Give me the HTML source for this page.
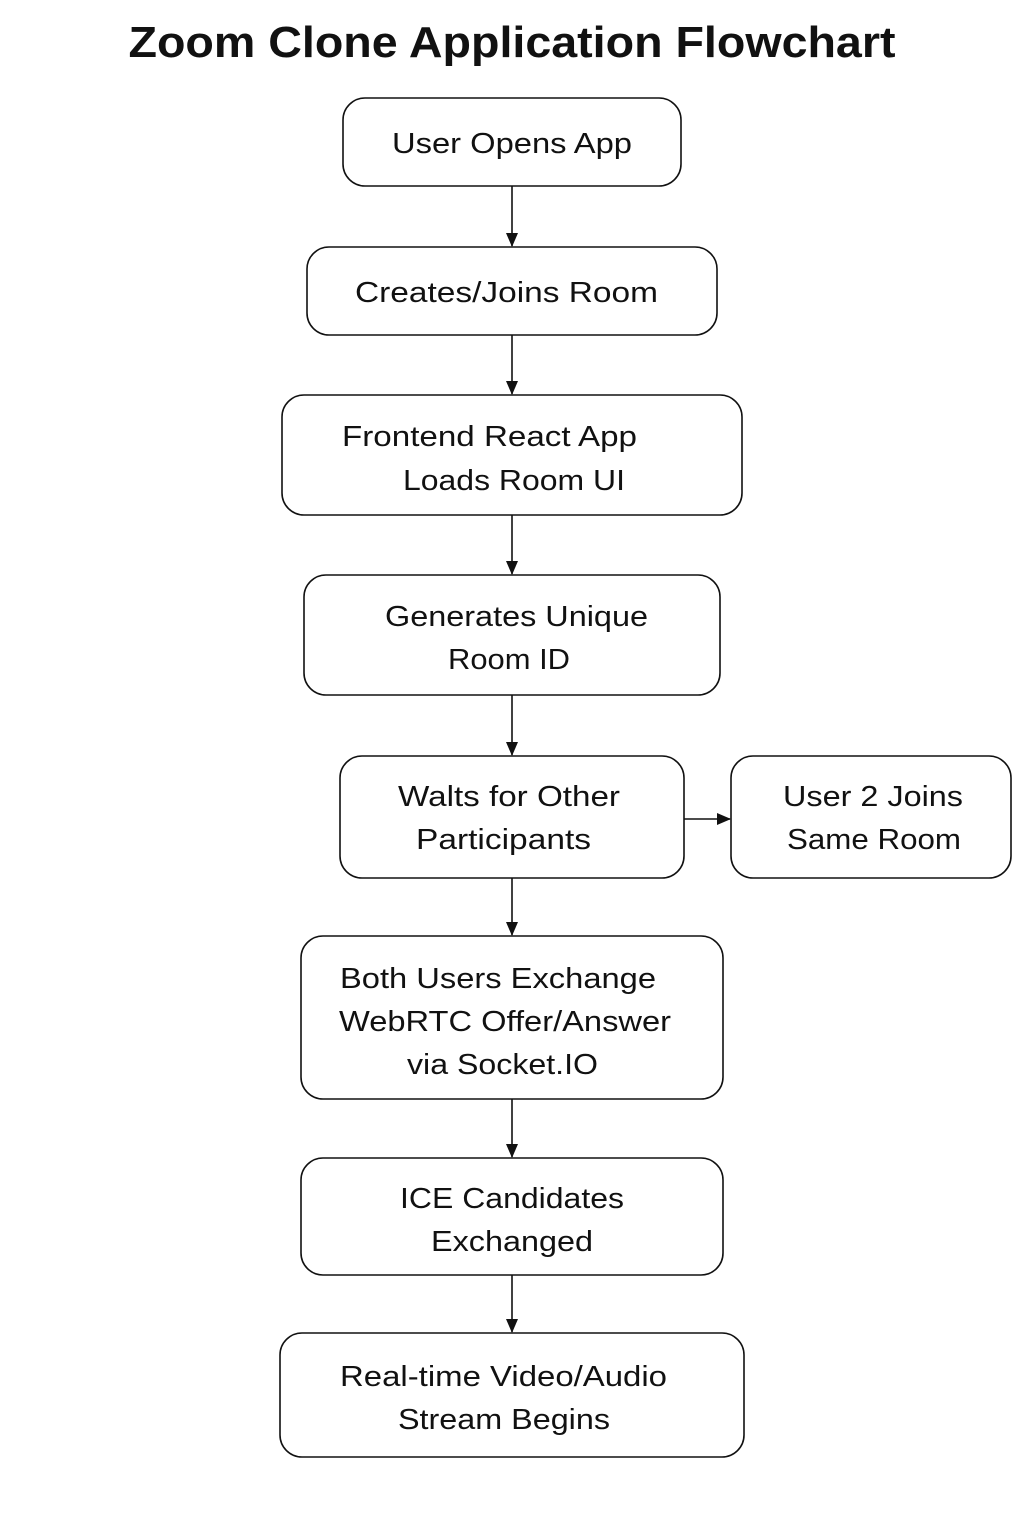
<!DOCTYPE html>
<html><head><meta charset="utf-8"><style>html,body{margin:0;padding:0;background:#fff}svg{display:block}</style></head>
<body>
<svg width="1024" height="1536" viewBox="0 0 1024 1536" xmlns="http://www.w3.org/2000/svg" font-family="Liberation Sans, DejaVu Sans, sans-serif">
<defs><marker id="a" markerWidth="10" markerHeight="10" refX="9" refY="5" orient="auto" markerUnits="userSpaceOnUse" viewBox="0 0 10 10"><path d="M0,0 L10,5 L0,10 z" fill="#111"/></marker>
<marker id="b" viewBox="0 0 14 14" refX="13" refY="7" markerWidth="14" markerHeight="14" orient="auto" markerUnits="userSpaceOnUse"><path d="M0,1 L14,7 L0,13 z" fill="#111"/></marker></defs>
<text x="512" y="57" text-anchor="middle" font-size="44" font-weight="bold" textLength="767" lengthAdjust="spacingAndGlyphs" fill="#111">Zoom Clone Application Flowchart</text>
<g fill="none" stroke="#111" stroke-width="1.6">
<rect x="343" y="98" width="338" height="88" rx="22"/>
<rect x="307" y="247" width="410" height="88" rx="22"/>
<rect x="282" y="395" width="460" height="120" rx="22"/>
<rect x="304" y="575" width="416" height="120" rx="22"/>
<rect x="340" y="756" width="344" height="122" rx="22"/>
<rect x="731" y="756" width="280" height="122" rx="22"/>
<rect x="301" y="936" width="422" height="163" rx="22"/>
<rect x="301" y="1158" width="422" height="117" rx="22"/>
<rect x="280" y="1333" width="464" height="124" rx="22"/>
<g marker-end="url(#b)">
<line x1="512" y1="186" x2="512" y2="246"/>
<line x1="512" y1="335" x2="512" y2="394"/>
<line x1="512" y1="515" x2="512" y2="574"/>
<line x1="512" y1="695" x2="512" y2="755"/>
<line x1="512" y1="878" x2="512" y2="935"/>
<line x1="512" y1="1099" x2="512" y2="1157"/>
<line x1="512" y1="1275" x2="512" y2="1332"/>
<line x1="684" y1="819" x2="730" y2="819"/>
</g></g>
<g font-size="29" fill="#111">
<text x="392" y="153" textLength="240" lengthAdjust="spacingAndGlyphs">User Opens App</text>
<text x="355" y="302" textLength="303" lengthAdjust="spacingAndGlyphs">Creates/Joins Room</text>
<text x="342" y="446" textLength="295" lengthAdjust="spacingAndGlyphs">Frontend React App</text>
<text x="403" y="490" textLength="222" lengthAdjust="spacingAndGlyphs">Loads Room UI</text>
<text x="385" y="626" textLength="263" lengthAdjust="spacingAndGlyphs">Generates Unique</text>
<text x="448" y="669" textLength="122" lengthAdjust="spacingAndGlyphs">Room ID</text>
<text x="398" y="806" textLength="222" lengthAdjust="spacingAndGlyphs">Walts for Other</text>
<text x="416" y="849" textLength="175" lengthAdjust="spacingAndGlyphs">Participants</text>
<text x="783" y="806" textLength="180" lengthAdjust="spacingAndGlyphs">User 2 Joins</text>
<text x="787" y="849" textLength="174" lengthAdjust="spacingAndGlyphs">Same Room</text>
<text x="340" y="988" textLength="316" lengthAdjust="spacingAndGlyphs">Both Users Exchange</text>
<text x="339" y="1031" textLength="332" lengthAdjust="spacingAndGlyphs">WebRTC Offer/Answer</text>
<text x="407" y="1074" textLength="191" lengthAdjust="spacingAndGlyphs">via Socket.IO</text>
<text x="400" y="1208" textLength="224" lengthAdjust="spacingAndGlyphs">ICE Candidates</text>
<text x="431" y="1251" textLength="162" lengthAdjust="spacingAndGlyphs">Exchanged</text>
<text x="340" y="1386" textLength="327" lengthAdjust="spacingAndGlyphs">Real-time Video/Audio</text>
<text x="398" y="1429" textLength="212" lengthAdjust="spacingAndGlyphs">Stream Begins</text>
</g>
</svg>
</body></html>
